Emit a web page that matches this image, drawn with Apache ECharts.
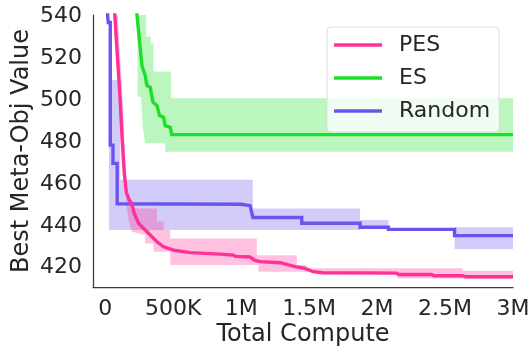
<!DOCTYPE html>
<html>
<head>
<meta charset="utf-8">
<script src="https://cdn.jsdelivr.net/npm/echarts@6/dist/echarts.min.js"></script>
<style>
  html, body { margin: 0; padding: 0; background: #ffffff; }
  #chart { width: 529px; height: 348px; }
</style>
</head>
<body>
<div id="chart"></div>
<script>
// Axis ticks
const xTickValues = [0, 500000, 1000000, 1500000, 2000000, 2500000, 3000000];
const xTickLabels = ['0', '500K', '1M', '1.5M', '2M', '2.5M', '3M'];
const yTickValues = [420, 440, 460, 480, 500, 520, 540];

// Series names
const seriesNames = ['PES', 'ES', 'Random'];

// PES: mean best value vs. total compute, and its spread
const pesMean = [
  [50000, 562], [71000, 540], [110000, 500], [125000, 481], [140000, 465],
  [155000, 456], [176000, 452.5], [196000, 450.5], [213000, 446], [245000, 441.2], [294000, 438],
  [331000, 435.6], [380000, 432.4], [429000, 430], [502000, 428.4], [625000, 427.2],
  [846000, 426.5], [943000, 426], [960000, 425.4], [1066000, 425.1], [1100000, 423.5],
  [1140000, 422.9], [1287000, 422.4], [1340000, 421.5], [1397000, 420.5], [1470000, 419.7],
  [1530000, 418.1], [1600000, 417.6], [2140000, 417.4], [2160000, 416.8], [2400000, 416.8],
  [2420000, 416.2], [2630000, 416.2], [2650000, 415.7], [3000000, 415.7]
];
const pesUpper = [
  [50000, 570], [93000, 540], [120000, 510], [135000, 490], [150000, 470],
  [165000, 455], [200000, 448.3], [380000, 448.3], [380000, 442], [429000, 442],
  [429000, 438], [478000, 438], [478000, 434], [1115000, 434], [1115000, 426],
  [1410000, 426], [1410000, 421.3], [1480000, 421.3], [1480000, 419.7], [2630000, 419.7],
  [2630000, 418.6], [3000000, 418.6]
];
const pesLower = [
  [50000, 548], [60000, 540], [100000, 500], [115000, 480], [135000, 465],
  [154000, 452.2], [171000, 442.8], [196000, 437.2], [294000, 435.6], [294000, 431.6],
  [355000, 431.6], [355000, 427.6], [478000, 427.6], [478000, 421.3], [1127000, 421.3],
  [1127000, 418.1], [1600000, 418.1], [1600000, 417.3], [2150000, 417.3], [2150000, 414.9],
  [3000000, 414.9]
];

// ES
const esMean = [
  [200000, 561], [233000, 541], [270000, 516.4], [294000, 511.7], [307000, 506.9],
  [331000, 506.1], [351000, 499], [380000, 497.4], [400000, 492.6], [429000, 491.8],
  [441000, 487.8], [478000, 487], [490000, 483.5], [3000000, 483.5]
];
const esUpper = [
  [238000, 560], [301000, 560], [301000, 530.3], [336000, 530.3], [336000, 527.1],
  [355000, 527.1], [355000, 513.6], [483000, 513.6], [483000, 500.9], [3000000, 500.9]
];
const esLower = [
  [238000, 560], [238000, 501.6], [262000, 501.6], [280000, 485], [294000, 479.4],
  [441000, 479.4], [441000, 475.4], [3000000, 475.4]
];

// Random search
const randomMean = [
  [12000, 560], [18000, 540], [22000, 537], [37000, 537], [37000, 478.5],
  [57000, 478.5], [57000, 469.8], [88000, 469.8], [88000, 450.5], [1000000, 450.3],
  [1066000, 449.6], [1086000, 444], [1446000, 444], [1446000, 441.2], [1875000, 441.2],
  [1875000, 439.3], [2083000, 439.3], [2083000, 438.3], [2570000, 438.3], [2570000, 435.3],
  [3000000, 435.3]
];
const randomUpper = [
  [27000, 509.6], [110000, 509.6], [110000, 462], [1086000, 462], [1086000, 448.3],
  [1875000, 448.3], [1875000, 442.8], [2083000, 442.8], [2083000, 438.3], [2570000, 438.3],
  [2570000, 439.3], [3000000, 439.3]
];
const randomLower = [
  [27000, 438], [1875000, 438], [1875000, 439.3], [2083000, 439.3], [2083000, 438.3],
  [2570000, 438.3], [2570000, 428.9], [3000000, 428.9]
];

const colors = { PES: '#ff3196', ES: '#1ae028', Random: '#6a55ec' };
const bandOpacity = 0.3;
const FONT = 'DejaVu Sans';
const TEXT = '#262626';

// Shaded band: polygon along the upper edge then back along the lower edge
function bandSeries(name, upper, lower, z) {
  const outline = upper.concat(lower.slice().reverse());
  return {
    type: 'custom',
    name: name + ' band',
    silent: true,
    clip: true,
    z: z,
    data: [outline[0]],
    encode: { x: 0, y: 1 },
    renderItem: function (params, api) {
      if (params.dataIndex !== 0) return null;
      const points = outline.map(function (p) { return api.coord(p); });
      return {
        type: 'polygon',
        shape: { points: points },
        style: { fill: colors[name], opacity: bandOpacity }
      };
    }
  };
}

function lineSeries(name, data, z) {
  return {
    type: 'line',
    name: name,
    data: data,
    symbol: 'none',
    z: z,
    lineStyle: { color: colors[name], width: 3.4, join: 'miter' },
    itemStyle: { color: colors[name] },
    emphasis: { disabled: true },
    clip: true
  };
}

const chart = echarts.init(document.getElementById('chart'), null, { renderer: 'canvas' });

chart.setOption({
  animation: false,
  backgroundColor: '#ffffff',
  textStyle: { fontFamily: FONT },
  grid: { left: 93, right: 16, top: 15, bottom: 61, containLabel: false, outerBoundsMode: 'none' },
  xAxis: {
    type: 'value',
    min: -90000,
    max: 3000000,
    name: 'Total Compute',
    nameLocation: 'middle',
    nameGap: 36,
    nameMoveOverlap: false,
    nameTextStyle: { fontFamily: FONT, fontSize: 24, color: TEXT },
    axisLine: { show: true, onZero: false, lineStyle: { color: '#3a3a3a', width: 1.25 } },
    axisTick: { show: false },
    splitLine: { show: false },
    axisLabel: {
      customValues: xTickValues,
      formatter: function (v) {
        const i = xTickValues.indexOf(v);
        return i >= 0 ? xTickLabels[i] : '';
      },
      fontFamily: FONT, fontSize: 22, color: TEXT, margin: 11
    }
  },
  yAxis: {
    type: 'value',
    min: 410.8,
    max: 540.6,
    name: 'Best Meta-Obj Value',
    nameLocation: 'middle',
    nameRotate: 90,
    nameGap: 59,
    nameMoveOverlap: false,
    nameTextStyle: { fontFamily: FONT, fontSize: 24, color: TEXT },
    axisLine: { show: true, onZero: false, lineStyle: { color: '#3a3a3a', width: 1.25 } },
    axisTick: { show: false },
    splitLine: { show: false },
    axisLabel: {
      customValues: yTickValues,
      fontFamily: FONT, fontSize: 22, color: TEXT, margin: 11
    }
  },
  legend: {
    data: seriesNames,
    orient: 'vertical',
    left: 327,
    top: 27,
    padding: [7, 9, 10, 7],
    itemGap: 11,
    itemWidth: 48,
    itemHeight: 3.5,
    icon: 'rect',
    backgroundColor: 'rgba(255,255,255,0.8)',
    borderColor: '#dddddd',
    borderWidth: 1,
    borderRadius: 4,
    selectedMode: false,
    textStyle: { fontFamily: FONT, fontSize: 22, color: TEXT, lineHeight: 22, padding: [0, 0, 0, 12] }
  },
  series: [
    bandSeries('Random', randomUpper, randomLower, 1),
    bandSeries('ES', esUpper, esLower, 1),
    bandSeries('PES', pesUpper, pesLower, 1),
    lineSeries('ES', esMean, 3),
    lineSeries('Random', randomMean, 3),
    lineSeries('PES', pesMean, 4)
  ]
});
</script>
</body>
</html>
